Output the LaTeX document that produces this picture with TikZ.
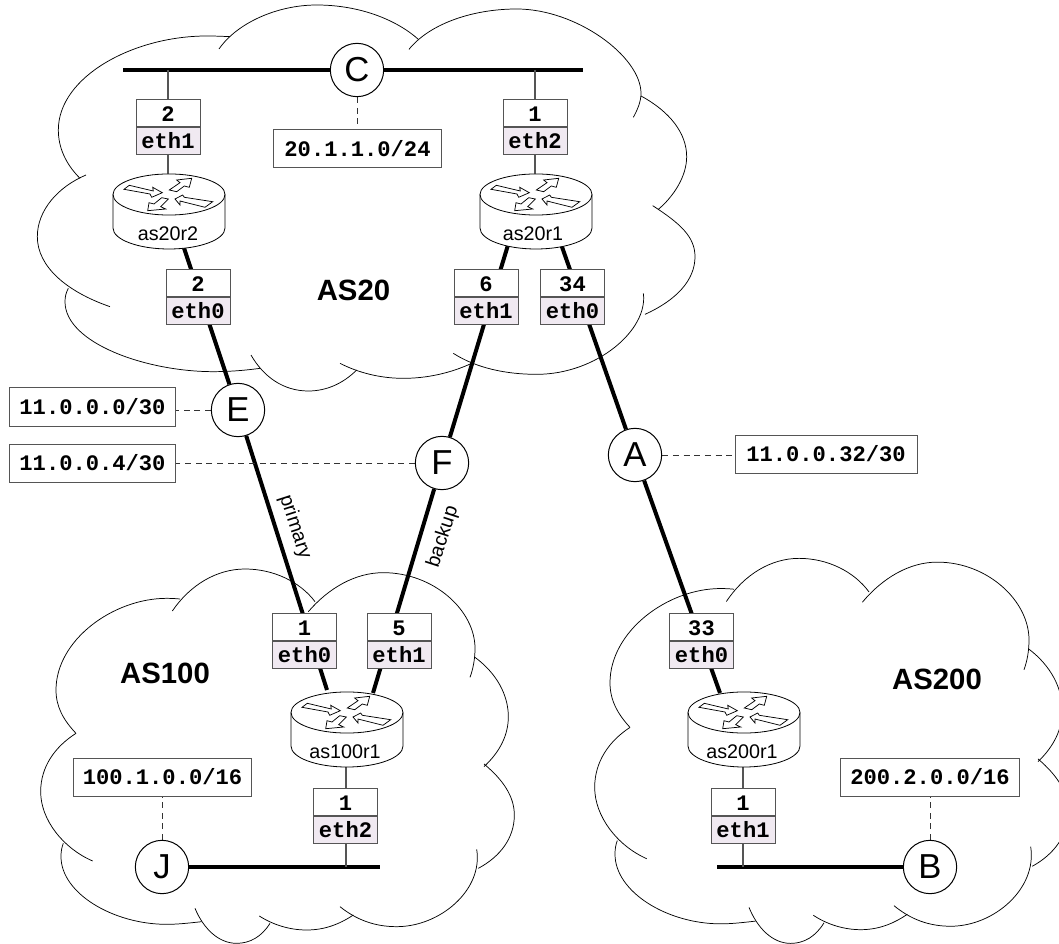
\documentclass[tikz,border=0pt]{standalone}
\usepackage{fontspec}
\setmainfont{Liberation Sans}
\setmonofont{Liberation Mono}
\usetikzlibrary{backgrounds}
\definecolor{ifacefill}{HTML}{F0E9F1}
\definecolor{boxedge}{HTML}{555555}
\tikzset{
  cloudline/.style={line width=.55pt,black},
  netcircle/.style={circle,draw=black,line width=.75pt,fill=white,minimum size=40pt,inner sep=0pt,font=\fontsize{26}{26}\selectfont},
  addrbox/.style={rectangle,draw=boxedge,line width=.75pt,fill=white,inner sep=0pt,minimum height=28.5pt,font=\ttfamily\bfseries\fontsize{16.6}{17}\selectfont},
  numcell/.style={rectangle,draw=boxedge,line width=.75pt,fill=white,inner sep=0pt,minimum width=48pt,minimum height=20pt,anchor=south,text height=12pt,text depth=0pt,font=\ttfamily\bfseries\fontsize{16.6}{17}\selectfont},
  ethcell/.style={rectangle,draw=boxedge,line width=.75pt,fill=ifacefill,inner sep=0pt,minimum width=48pt,minimum height=20pt,anchor=north,text height=12pt,text depth=0pt,font=\ttfamily\bfseries\fontsize{16.6}{17}\selectfont},
  thicklink/.style={line width=3pt,black},
  thinlink/.style={line width=.8pt,boxedge},
  dashlink/.style={line width=.7pt,black!80,dash pattern=on 4.5pt off 3.5pt},
  aslabel/.style={font=\bfseries\fontsize{22}{22}\selectfont,inner sep=0pt},
  routerlabel/.style={font=\fontsize{14.8}{15}\selectfont,inner sep=0pt},
  linklabel/.style={font=\fontsize{14.8}{15}\selectfont,inner sep=0pt},
  routerpic/.pic={
    \path[draw=black,line width=.6pt,fill=white] (-56,0) -- (-56,33.5) arc[start angle=180,end angle=360,x radius=42pt,y radius=15.75pt] -- (56,0) arc[start angle=0,end angle=180,x radius=42pt,y radius=15.4pt] -- cycle;
    \path[draw=black,line width=.6pt] (-56,0) arc[start angle=180,end angle=360,x radius=42pt,y radius=15.4pt];
    \draw[line width=.55pt,fill=white,line join=miter] (-45,-5.2) -- (-39.7,-9.2) -- (-15.7,-3.5) -- (-16.3,-7.2) -- (-6.7,-1.8) -- (-17.3,2.8) -- (-19,-.5) -- cycle;
    \draw[line width=.55pt,fill=white,line join=miter] (22.7,-16.2) -- (7.7,-14.5) -- (11,-11.8) -- (.3,-4.5) -- (7.7,-2.8) -- (15.3,-8.5) -- (20.3,-7.2) -- cycle;
    \draw[line width=.55pt,fill=white,line join=miter] (6,4.5) -- (13.7,.5) -- (15.3,2.8) -- (43.7,7.2) -- (36,12.8) -- (11,6.5) -- (11,10.5) -- cycle;
    \draw[line width=.55pt,fill=white,line join=miter] (-21.3,16.2) -- (-20,8.2) -- (-15,9.5) -- (-7.3,3.2) -- (-.7,4.5) -- (-8.3,12.2) -- (-3.3,14.5) -- cycle;
  }
}
\newcommand{\ifacebox}[5]{% name, x, y of division, number, eth
  \node[numcell] (#1n) at (#2,#3) {#4};
  \node[ethcell] (#1e) at (#2,#3) {#5};
}
\newcommand{\smallcloud}{%
  \draw[cloudline] (228,520) .. controls (190,480) and (168,440) .. (168,390) .. controls (168,240) and (340,115) .. (500,115) .. controls (515,115) and (530,116) .. (540,117);
  \draw[cloudline] (517,153) .. controls (570,75) and (650,27) .. (735,27) .. controls (820,27) and (900,65) .. (945,125);
  \draw[cloudline] (925,155) .. controls (985,85) and (1065,38) .. (1150,38) .. controls (1300,38) and (1425,150) .. (1425,265) .. controls (1425,295) and (1420,325) .. (1410,352);
  \draw[cloudline] (1425,292) .. controls (1490,340) and (1525,405) .. (1525,470) .. controls (1525,525) and (1500,575) .. (1452,620);
  \draw[cloudline] (1452,612) .. controls (1510,660) and (1543,710) .. (1543,765) .. controls (1543,835) and (1500,890) .. (1435,925);
  \draw[cloudline] (1430,868) .. controls (1450,990) and (1320,1100) .. (1190,1100) .. controls (1125,1100) and (1070,1080) .. (1020,1040);
  \draw[cloudline] (1060,1065) .. controls (1015,1095) and (970,1110) .. (920,1110) .. controls (870,1110) and (820,1095) .. (778,1068);
  \draw[cloudline] (810,1090) .. controls (785,1130) and (750,1150) .. (710,1150) .. controls (655,1150) and (610,1105) .. (585,1045);
  \draw[cloudline] (605,1085) .. controls (560,1090) and (530,1093) .. (500,1093) .. controls (340,1093) and (183,1000) .. (183,890) .. controls (183,875) and (185,862) .. (190,850);
  \draw[cloudline] (278,903) .. controls (190,865) and (122,780) .. (122,695) .. controls (122,620) and (165,560) .. (228,520);
}
\begin{document}
\begin{tikzpicture}[x=.75pt,y=-.75pt]
\useasboundingbox (0,0) rectangle (1059,944);
\clip (0,0) rectangle (1059,944);
% network circles
\node[netcircle] (C) at (357,70) {C};
\node[netcircle] (E) at (238,410) {E};
\node[netcircle] (F) at (442,463) {F};
\node[netcircle] (A) at (635,455) {A};
\node[netcircle] (J) at (162,867) {J};
\node[netcircle] (B) at (930,867) {B};
% address boxes
\node[addrbox,minimum width=125.5pt] (addrC) at (357.5,149) {20.1.1.0/24};
\node[addrbox,minimum width=125pt] (addrE) at (92.5,407) {11.0.0.0/30};
\node[addrbox,minimum width=125pt] (addrF) at (92.5,463) {11.0.0.4/30};
\node[addrbox,minimum width=136.5pt] (addrA) at (826,454) {11.0.0.32/30};
\node[addrbox,minimum width=134pt] (addrJ) at (162.5,777) {100.1.0.0/16};
\node[addrbox,minimum width=134pt] (addrB) at (930,777) {200.2.0.0/16};
% routers
\pic at (169,194.5) {routerpic};
\pic at (536,194.5) {routerpic};
\pic at (347,712.5) {routerpic};
\pic at (744,712.5) {routerpic};
\node[routerlabel] (as20r2) at (168,234) {as20r2};
\node[routerlabel] (as20r1) at (533,234) {as20r1};
\node[routerlabel] (as100r1) at (345,752) {as100r1};
\node[routerlabel] (as200r1) at (742,752) {as200r1};
% interface boxes
\ifacebox{rtwoa}{168}{127}{2}{eth1}
\ifacebox{rtwob}{198}{297}{2}{eth0}
\ifacebox{ronea}{535}{127}{1}{eth2}
\ifacebox{roneb}{486}{297}{6}{eth1}
\ifacebox{ronec}{572.5}{297}{34}{eth0}
\ifacebox{rhuna}{304.5}{641}{1}{eth0}
\ifacebox{rhunb}{399}{641}{5}{eth1}
\ifacebox{rhunc}{345.5}{816}{1}{eth2}
\ifacebox{rtwhb}{701.5}{641}{33}{eth0}
\ifacebox{rtwhc}{743}{816}{1}{eth1}
% labels
\node[aslabel] (as20) at (353.5,290) {AS20};
\node[aslabel] (as100) at (165,673) {AS100};
\node[aslabel] (as200) at (937,679) {AS200};
\node[linklabel,rotate=-72] (primary) at (295,527) {primary};
\node[linklabel,rotate=72] (backup) at (443,537) {backup};
% free ends
\coordinate (busCl) at (123,70);
\coordinate (busCr) at (583,70);
\coordinate (busJ) at (380,867);
\coordinate (busB) at (717,867);
\coordinate (rtwoS) at (184,248);
\coordinate (rtwoN) at (168,174);
\coordinate (rtwoT) at (168,70);
\coordinate (roneN) at (535,174);
\coordinate (roneT) at (535,70);
\coordinate (roneSw) at (508,245);
\coordinate (roneSe) at (561,244);
\coordinate (rhunNw) at (327,690);
\coordinate (rhunNe) at (373,693);
\coordinate (rhunS) at (346,767);
\coordinate (rhunB) at (346,867);
\coordinate (rtwhN) at (720,693);
\coordinate (rtwhS) at (743,767);
\coordinate (rtwhB) at (743,867);
\begin{pgfonlayer}{background}
  % clouds
  \begin{scope}[x=.25pt,y=-.25pt]
    \draw[cloudline] (240,535) .. controls (195,490) and (175,440) .. (175,390) .. controls (175,230) and (400,108) .. (620,108) .. controls (645,108) and (670,109) .. (690,110);
    \draw[cloudline] (657,147) .. controls (710,70) and (830,15) .. (950,15) .. controls (1080,15) and (1190,60) .. (1255,118);
    \draw[cloudline] (1227,148) .. controls (1290,70) and (1420,27) .. (1550,27) .. controls (1730,27) and (1923,170) .. (1923,280) .. controls (1923,305) and (1912,330) .. (1900,352);
    \draw[cloudline] (1923,288) .. controls (2010,335) and (2060,400) .. (2060,470) .. controls (2060,530) and (2020,590) .. (1975,628);
    \draw[cloudline] (1958,617) .. controls (2040,670) and (2085,710) .. (2085,770) .. controls (2085,840) and (2030,900) .. (1935,943);
    \draw[cloudline] (1930,880) .. controls (1945,990) and (1790,1123) .. (1610,1123) .. controls (1520,1123) and (1430,1105) .. (1360,1060);
    \draw[cloudline] (1415,1090) .. controls (1350,1120) and (1280,1135) .. (1210,1135) .. controls (1140,1135) and (1075,1118) .. (1020,1090);
    \draw[cloudline] (1070,1110) .. controls (1030,1150) and (980,1173) .. (925,1173) .. controls (850,1173) and (790,1130) .. (753,1065);
    \draw[cloudline] (780,1105) .. controls (730,1112) and (680,1115) .. (640,1115) .. controls (440,1115) and (195,1030) .. (195,905) .. controls (195,890) and (198,878) .. (205,865);
    \draw[cloudline] (330,920) .. controls (200,875) and (112,800) .. (112,710) .. controls (112,630) and (175,560) .. (258,525);
  \end{scope}
  \begin{scope}[shift={(0,560)},x=.25pt,y=-.25pt]
    \smallcloud
  \end{scope}
  \begin{scope}[shift={(554,549.1)},x=.25pt,y=-.25714pt]
    \smallcloud
  \end{scope}
  % thick links
  \draw[thicklink] (busCl) -- (C);
  \draw[thicklink] (C) -- (busCr);
  \draw[thicklink] (J) -- (busJ);
  \draw[thicklink] (busB) -- (B);
  \draw[thicklink] (rtwoS) -- (E);
  \draw[thicklink] (E) -- (rhunNw);
  \draw[thicklink] (roneSw) -- (F);
  \draw[thicklink] (F) -- (rhunNe);
  \draw[thicklink] (roneSe) -- (A);
  \draw[thicklink] (A) -- (rtwhN);
  % thin links
  \draw[thinlink] (rtwoT) -- (rtwoN);
  \draw[thinlink] (roneT) -- (roneN);
  \draw[thinlink] (rhunS) -- (rhunB);
  \draw[thinlink] (rtwhS) -- (rtwhB);
  % dashed links
  \draw[dashlink] (C) -- (addrC.north -| C);
  \draw[dashlink] (E) -- (E -| addrE.east);
  \draw[dashlink] (F) -- (F -| addrF.east);
  \draw[dashlink] (A) -- (A -| addrA.west);
  \draw[dashlink] (J) -- (addrJ.south -| J);
  \draw[dashlink] (B) -- (addrB.south -| B);
\end{pgfonlayer}
\end{tikzpicture}
\end{document}
